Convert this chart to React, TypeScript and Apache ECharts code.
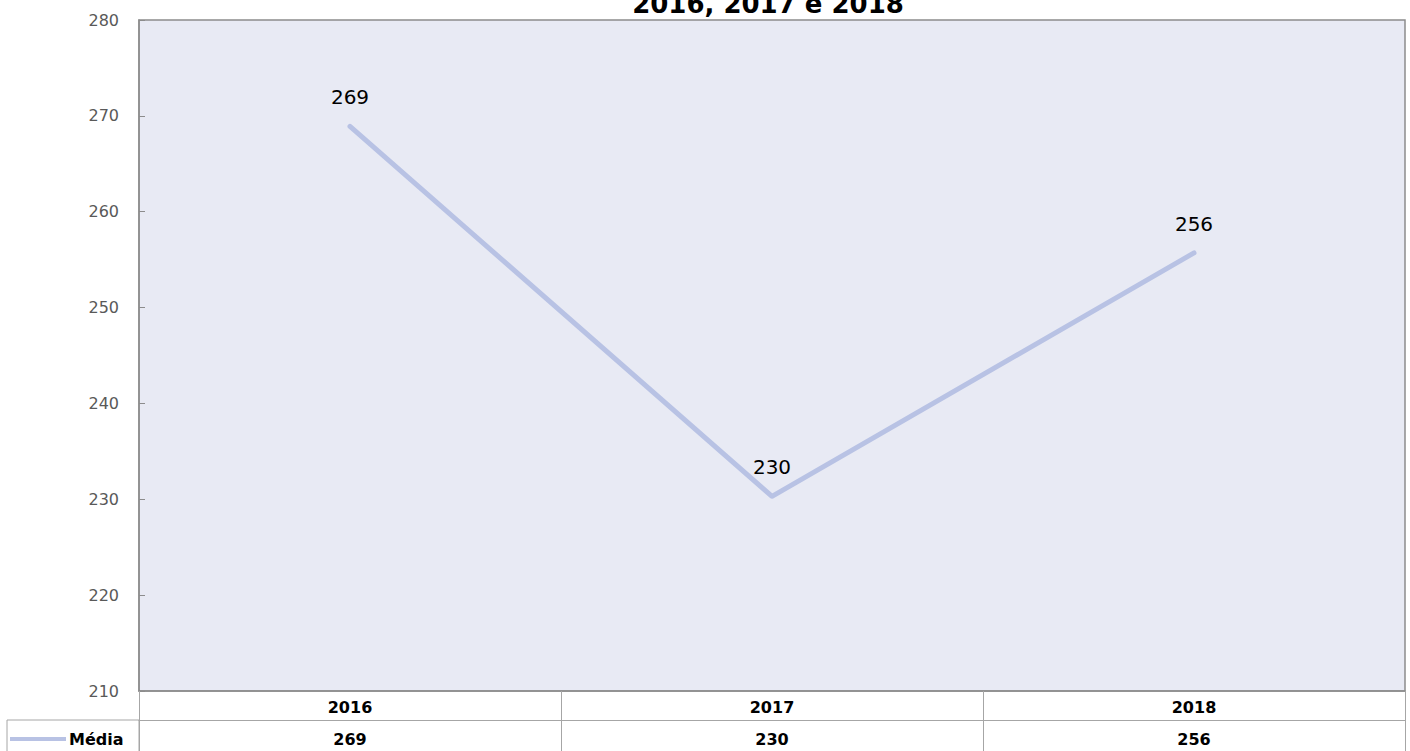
import React, { useEffect, useRef } from "react";
import * as echarts from "echarts";

const categories = ["2016", "2017", "2018"];
const seriesName = "Média";
const values = [268.9, 230.3, 255.7];
const titleText = "2016, 2017 e 2018";
const yMin = 210;
const yMax = 280;
const yInterval = 10;

export default function App() {
  const ref = useRef<HTMLDivElement>(null);
  useEffect(() => {
    document.body.style.margin = "0";
    const chart = echarts.init(ref.current!, null, { renderer: "svg" });
    const font = "'DejaVu Sans', Verdana, sans-serif";
    const border = "#8c8c8c";
    const lineColor = "#b8c2e4";
    chart.setOption({
      animation: false,
      textStyle: { fontFamily: font },
      grid: {
        left: 139,
        top: 20,
        right: 5,
        bottom: 60,
        show: true,
        backgroundColor: "#e8eaf4",
        borderColor: border,
        borderWidth: 1.5,
      },
      legend: {
        left: 10,
        top: 731,
        itemWidth: 56,
        itemHeight: 4,
        itemGap: 4,
        icon: "rect",
        padding: 0,
        itemStyle: { color: lineColor, opacity: 1 },
        textStyle: { fontSize: 16, fontWeight: "bold", color: "#000", fontFamily: font, padding: [0, 0, 0, -2] },
        data: [seriesName],
      },
      graphic: [
        {
          type: "rect",
          shape: { x: 7, y: 720, width: 132, height: 40 },
          style: { fill: "none", stroke: "#a6a6a6", lineWidth: 1 },
          z: 10,
        },
        {
          type: "text",
          x: 768,
          y: 4,
          style: {
            text: titleText,
            fontSize: 26,
            fontWeight: "bold",
            fontFamily: font,
            fill: "#000",
            textAlign: "center",
            textVerticalAlign: "middle",
          },
        },
      ],
      xAxis: [
        {
          type: "category",
          data: categories,
          position: "bottom",
          boundaryGap: true,
          axisLine: { show: true, lineStyle: { color: border, width: 1.5 } },
          axisTick: { show: true, length: 62, lineStyle: { color: "#a6a6a6" } },
          axisLabel: { margin: 8, fontSize: 16, fontWeight: "bold", color: "#000", fontFamily: font },
          splitLine: { show: false },
        },
        {
          type: "category",
          data: values.map((v) => String(Math.round(v))),
          position: "bottom",
          offset: 29,
          boundaryGap: true,
          axisLine: { show: true, lineStyle: { color: "#a6a6a6", width: 1 } },
          axisTick: { show: false },
          axisLabel: { margin: 11, fontSize: 16, fontWeight: "bold", color: "#000", fontFamily: font },
          splitLine: { show: false },
        },
      ],
      yAxis: {
        type: "value",
        min: yMin,
        max: yMax,
        interval: yInterval,
        axisLine: { show: true, lineStyle: { color: border, width: 1.5 } },
        axisTick: { show: true, inside: true, length: 6, lineStyle: { color: border } },
        axisLabel: { margin: 20, fontSize: 16, color: "#595959", fontFamily: font },
        splitLine: { show: false },
      },
      series: [
        {
          name: seriesName,
          type: "line",
          xAxisIndex: 0,
          data: values,
          showSymbol: true,
          symbol: "circle",
          symbolSize: 4,
          itemStyle: { color: lineColor },
          color: lineColor,
          lineStyle: { width: 5, color: lineColor, cap: "round" },
          label: {
            show: true,
            position: "top",
            distance: 17,
            fontSize: 20,
            color: "#000",
            fontFamily: font,
            formatter: (p: any) => String(Math.round(p.value)),
          },
        },
      ],
    });
    return () => chart.dispose();
  }, []);
  return <div ref={ref} style={{ width: 1410, height: 751 }} />;
}
